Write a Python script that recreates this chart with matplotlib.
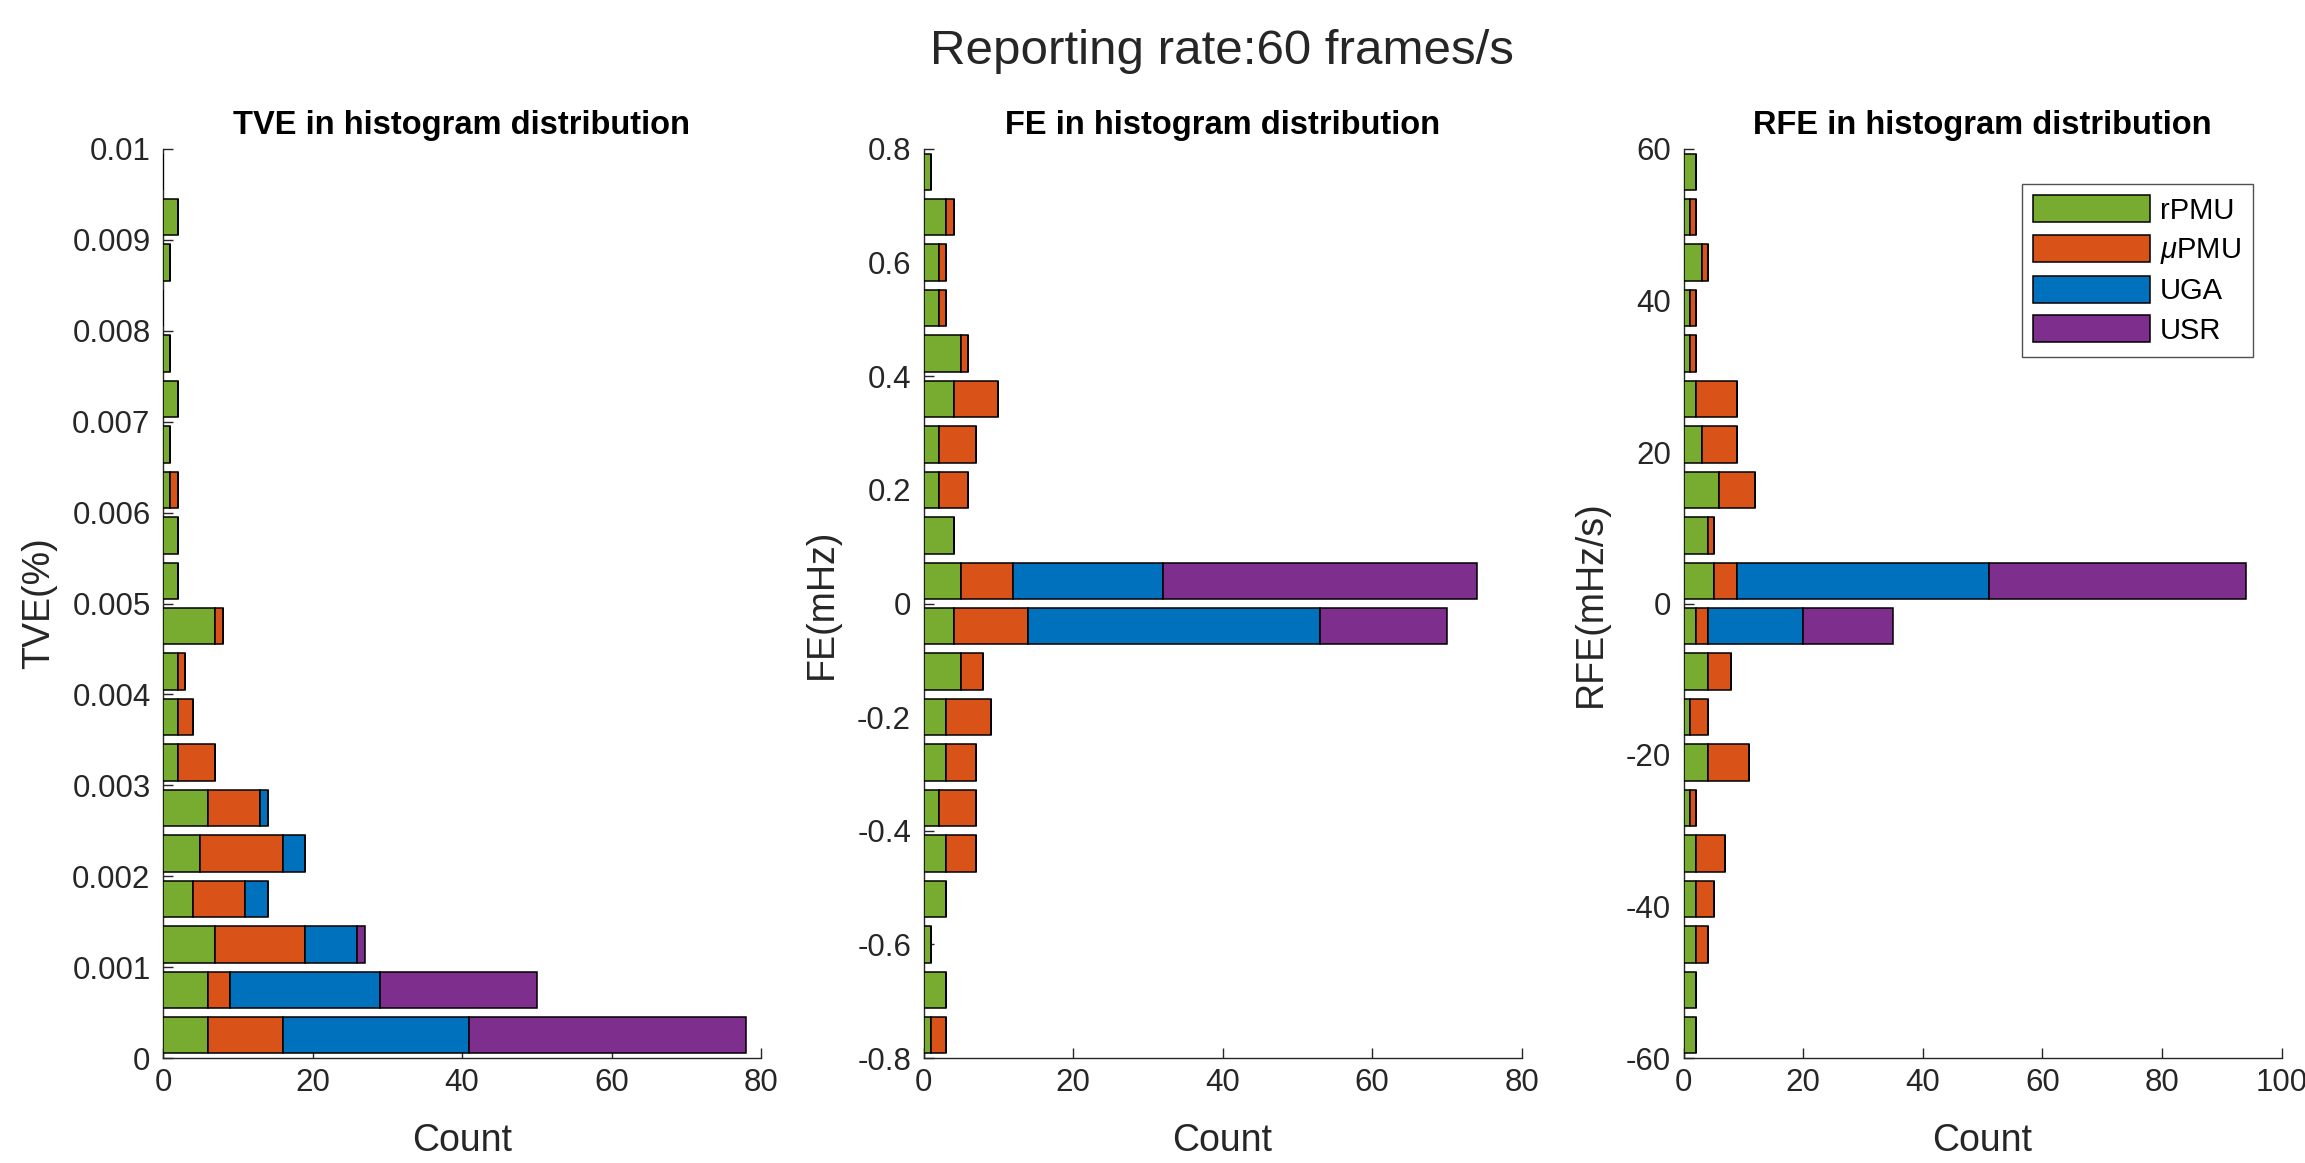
import numpy as np
import matplotlib
matplotlib.use("Agg")
import matplotlib.pyplot as plt

# ---------------- data ----------------
series_names = ["rPMU", r"$\mu$PMU", "UGA", "USR"]
series_colors = ["#77AC30", "#D95319", "#0072BD", "#7E2F8E"]

# TVE (%) histogram: 20 bins of width 0.0005, centres from 0.00025 to 0.00975
tve_centers = [0.00025 + 0.0005 * i for i in range(20)]
tve_rpmu = [6, 6, 7, 4, 5, 6, 2, 2, 2, 7, 2, 2, 1, 1, 2, 1, 0, 1, 2, 0]
tve_upmu = [10, 3, 12, 7, 11, 7, 5, 2, 1, 1, 0, 0, 1, 0, 0, 0, 0, 0, 0, 0]
tve_uga = [25, 20, 7, 3, 3, 1, 0, 0, 0, 0, 0, 0, 0, 0, 0, 0, 0, 0, 0, 0]
tve_usr = [37, 21, 1, 0, 0, 0, 0, 0, 0, 0, 0, 0, 0, 0, 0, 0, 0, 0, 0, 0]

# FE (mHz) histogram: 20 bins of width 0.08, centres from -0.76 to 0.76
fe_centers = [-0.76 + 0.08 * i for i in range(20)]
fe_rpmu = [1, 3, 1, 3, 3, 2, 3, 3, 5, 4, 5, 4, 2, 2, 4, 5, 2, 2, 3, 1]
fe_upmu = [2, 0, 0, 0, 4, 5, 4, 6, 3, 10, 7, 0, 4, 5, 6, 1, 1, 1, 1, 0]
fe_uga = [0, 0, 0, 0, 0, 0, 0, 0, 0, 39, 20, 0, 0, 0, 0, 0, 0, 0, 0, 0]
fe_usr = [0, 0, 0, 0, 0, 0, 0, 0, 0, 17, 42, 0, 0, 0, 0, 0, 0, 0, 0, 0]

# RFE (mHz/s) histogram: 20 bins of width 6, centres from -57 to 57
rfe_centers = [-57 + 6 * i for i in range(20)]
rfe_rpmu = [2, 2, 2, 2, 2, 1, 4, 1, 4, 2, 5, 4, 6, 3, 2, 1, 1, 3, 1, 2]
rfe_upmu = [0, 0, 2, 3, 5, 1, 7, 3, 4, 2, 4, 1, 6, 6, 7, 1, 1, 1, 1, 0]
rfe_uga = [0, 0, 0, 0, 0, 0, 0, 0, 0, 16, 42, 0, 0, 0, 0, 0, 0, 0, 0, 0]
rfe_usr = [0, 0, 0, 0, 0, 0, 0, 0, 0, 15, 43, 0, 0, 0, 0, 0, 0, 0, 0, 0]

tve_yticks = [0, 0.001, 0.002, 0.003, 0.004, 0.005, 0.006, 0.007, 0.008, 0.009, 0.01]
tve_yticklabels = ["0", "0.001", "0.002", "0.003", "0.004", "0.005", "0.006",
                   "0.007", "0.008", "0.009", "0.01"]
fe_yticks = [-0.8, -0.6, -0.4, -0.2, 0, 0.2, 0.4, 0.6, 0.8]
fe_yticklabels = ["-0.8", "-0.6", "-0.4", "-0.2", "0", "0.2", "0.4", "0.6", "0.8"]
rfe_yticks = [-60, -40, -20, 0, 20, 40, 60]
rfe_yticklabels = ["-60", "-40", "-20", "0", "20", "40", "60"]

# ---------------- style ----------------
plt.rcParams["font.family"] = ["Liberation Sans", "DejaVu Sans"]
plt.rcParams["mathtext.fontset"] = "custom"
plt.rcParams["mathtext.it"] = "Liberation Sans:italic"
plt.rcParams["mathtext.rm"] = "Liberation Sans"
TXT = "#262626"

W, H = 2305, 1163
fig = plt.figure(figsize=(W / 100, H / 100), dpi=100)

ax_w = 598 / W
ax_h = 909 / H
ax_b = (H - 1058) / H
lefts = [163 / W, 923.6 / W, 1683.6 / W]

panels = [
    dict(centers=tve_centers, vals=[tve_rpmu, tve_upmu, tve_uga, tve_usr], binw=0.0005,
         ylim=(0, 0.01), yt=tve_yticks, ytl=tve_yticklabels, xlim=(0, 80),
         xt=[0, 20, 40, 60, 80], title="TVE in histogram distribution",
         ylabel="TVE(%)", ylx=-0.177),
    dict(centers=fe_centers, vals=[fe_rpmu, fe_upmu, fe_uga, fe_usr], binw=0.08,
         ylim=(-0.8, 0.8), yt=fe_yticks, ytl=fe_yticklabels, xlim=(0, 80),
         xt=[0, 20, 40, 60, 80], title="FE in histogram distribution",
         ylabel="FE(mHz)", ylx=-0.140),
    dict(centers=rfe_centers, vals=[rfe_rpmu, rfe_upmu, rfe_uga, rfe_usr], binw=6,
         ylim=(-60, 60), yt=rfe_yticks, ytl=rfe_yticklabels, xlim=(0, 100),
         xt=[0, 20, 40, 60, 80, 100], title="RFE in histogram distribution",
         ylabel="RFE(mHz/s)", ylx=-0.125),
]

axes = []
for p, left in zip(panels, lefts):
    ax = fig.add_axes([left, ax_b, ax_w, ax_h])
    axes.append(ax)
    cum = np.zeros(len(p["centers"]))
    handles = []
    for vals, name, col in zip(p["vals"], series_names, series_colors):
        v = np.asarray(vals, dtype=float)
        h = ax.barh(p["centers"], v, height=p["binw"] * 0.8, left=cum, color=col,
                    edgecolor="black", linewidth=1.1, label=name, zorder=2)
        handles.append(h)
        cum = cum + v
    ax.set_ylim(*p["ylim"])
    ax.set_xlim(*p["xlim"])
    ax.set_yticks(p["yt"])
    ax.set_yticklabels(p["ytl"])
    ax.set_xticks(p["xt"])
    ax.set_xticklabels([str(t) for t in p["xt"]])
    for s in ["top", "right"]:
        ax.spines[s].set_visible(False)
    for s in ["left", "bottom"]:
        ax.spines[s].set_color(TXT)
        ax.spines[s].set_linewidth(1.0)
        ax.spines[s].set_zorder(1)
    ax.tick_params(direction="in", length=7, width=1.0, colors=TXT, labelsize=22.5,
                   pad=7)
    ax.tick_params(axis="y", pad=9)
    ax.set_title(p["title"], fontsize=23.5, fontweight="bold", color="black", pad=11)
    ax.set_xlabel("Count", fontsize=27, color=TXT, labelpad=18)
    ax.set_ylabel(p["ylabel"], fontsize=27, color=TXT)
    ax.yaxis.set_label_coords(p["ylx"], 0.5)

leg = axes[2].legend(handles=handles, labels=series_names, loc="upper right",
                     bbox_to_anchor=(0.952, 0.962), fontsize=21, frameon=True,
                     fancybox=False, edgecolor="#262626", handlelength=4.0,
                     handleheight=1.05, handletextpad=0.35, labelspacing=0.34,
                     borderpad=0.4, borderaxespad=0.0)
leg.get_frame().set_linewidth(1.0)

fig.text(1222 / W, (H - 52) / H, "Reporting rate:60 frames/s", ha="center", va="center",
         fontsize=35.5, color=TXT)

fig.savefig("out.png", dpi=100)
